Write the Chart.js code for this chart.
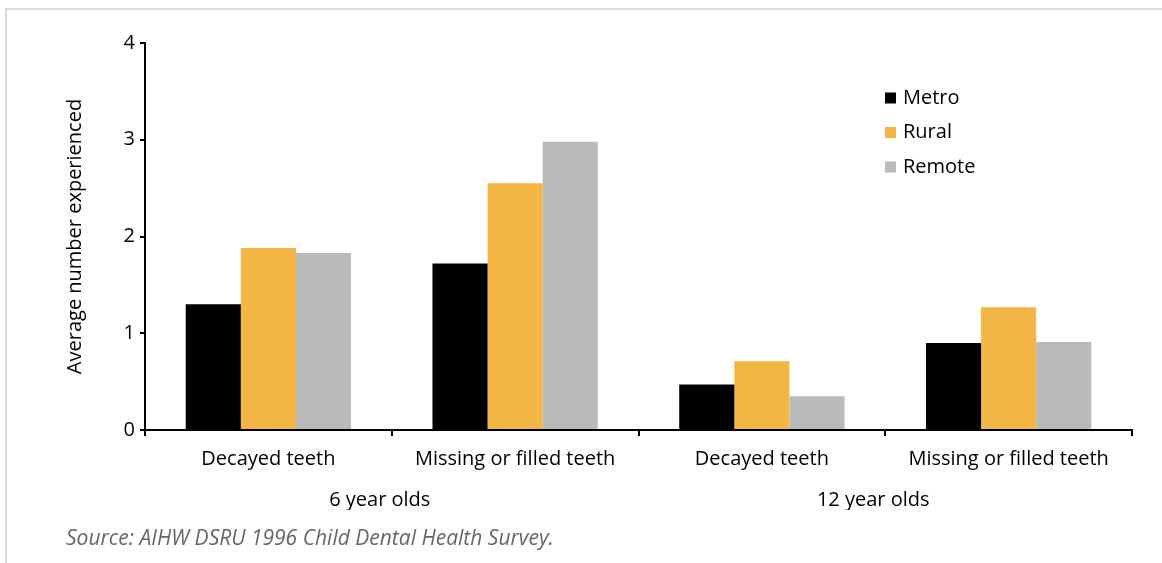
<!DOCTYPE html>
<html>
<head>
<meta charset="utf-8">
<script src="https://cdn.jsdelivr.net/npm/chart.js@4.4.0/dist/chart.umd.min.js"></script>
<style>
  body { margin: 0; background: #fff; }
  #wrap { position: relative; width: 1162px; height: 563px; }
  #frame { position: absolute; left: 5px; top: 8px; right: 0; bottom: 0;
           border-top: 2px solid #d9d9d9; border-left: 2px solid #d9d9d9; }
  canvas { position: absolute; left: 0; top: 0; }
  #source { position: absolute; left: 66px; top: 523px; line-height: 24px;
            font: italic 21px 'Open Sans', sans-serif; color: #666; white-space: nowrap; }
</style>
</head>
<body>
<div id="wrap">
  <div id="frame"></div>
  <canvas id="chart" width="1162" height="563"></canvas>
  <div id="source">Source: AIHW DSRU 1996 Child Dental Health Survey.</div>
</div>
<script>
var categories = ['Decayed teeth', 'Missing or filled teeth', 'Decayed teeth', 'Missing or filled teeth'];
var groups = ['6 year olds', '12 year olds'];
var metro = [1.30, 1.72, 0.47, 0.90];
var rural = [1.88, 2.55, 0.71, 1.27];
var remote = [1.83, 2.98, 0.35, 0.91];

var font = "'Open Sans', sans-serif";

// legend drawn inside the plot, top right
var boxLegend = {
    id: 'boxLegend',
    afterDraw: function(chart) {
        var ctx = chart.ctx;
        var area = chart.chartArea;
        var x = area.right - 247;
        var y = area.top + 55;
        ctx.save();
        ctx.font = '20px ' + font;
        ctx.textBaseline = 'middle';
        ctx.textAlign = 'left';
        chart.data.datasets.forEach(function(ds, i) {
            var cy = y + i * 34.5;
            ctx.fillStyle = ds.backgroundColor;
            ctx.fillRect(x, cy - 5.5, 11, 11);
            ctx.fillStyle = '#000';
            ctx.fillText(ds.label, x + 18, cy);
        });
        ctx.restore();
    }
};

var ctx = document.getElementById('chart');
var chart = new Chart(ctx, {
    type: 'bar',
    data: {
        labels: categories,
        datasets: [
            { label: 'Metro', data: metro, backgroundColor: '#000000' },
            { label: 'Rural', data: rural, backgroundColor: '#f3b544' },
            { label: 'Remote', data: remote, backgroundColor: '#bababa' }
        ]
    },
    options: {
        responsive: false,
        animation: false,
        layout: { padding: { left: 63, right: 30, top: 43, bottom: 53 } },
        datasets: { bar: { barPercentage: 1, categoryPercentage: 0.67 } },
        plugins: {
            legend: { display: false },
            tooltip: { enabled: false }
        },
        scales: {
            x: {
                offset: true,
                grid: { display: true, drawOnChartArea: false, offset: true, tickLength: 6, color: '#000', lineWidth: 2 },
                border: { color: '#000', width: 2 },
                ticks: { color: '#000', font: { family: font, size: 20 }, padding: 11 }
            },
            x2: {
                type: 'category',
                labels: groups,
                position: 'bottom',
                offset: true,
                grid: { display: false },
                border: { display: false },
                ticks: { color: '#000', font: { family: font, size: 20 }, padding: -2, labelOffset: -12 }
            },
            y: {
                min: 0,
                max: 4,
                ticks: { stepSize: 1, color: '#000', font: { family: font, size: 20 }, padding: 5 },
                grid: { display: true, drawOnChartArea: false, tickLength: 5, color: '#000', lineWidth: 2 },
                border: { color: '#000', width: 2 },
                title: { display: true, text: 'Average number experienced', color: '#000', font: { family: font, size: 20 }, padding: 0 },
                afterFit: function(scale) { scale.width = 82; }
            }
        }
    },
    plugins: [boxLegend]
});
</script>
</body>
</html>
